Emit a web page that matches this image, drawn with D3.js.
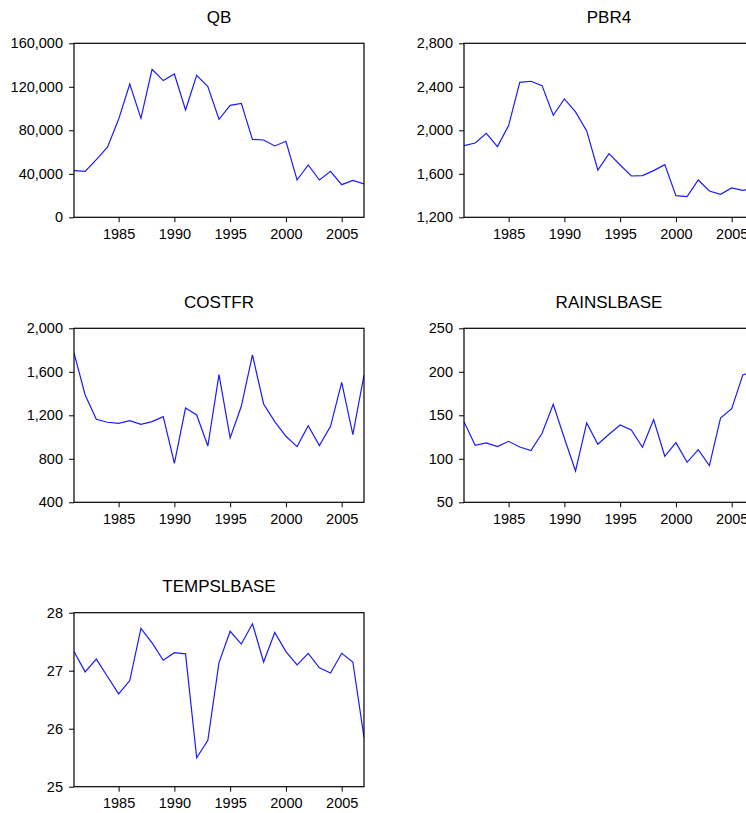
<!DOCTYPE html>
<html>
<head>
<meta charset="utf-8">
<script src="https://cdn.jsdelivr.net/npm/d3@7"></script>
<style>
  html, body { margin: 0; padding: 0; background: #fff; }
  svg { display: block; }
  text { font-family: "Liberation Sans", Arial, sans-serif; fill: #000; }
</style>
</head>
<body>
<svg id="chart" width="746" height="813"></svg>
<script>
const years = d3.range(1981, 2008);
const xTicks = [1985, 1990, 1995, 2000, 2005];

const qb = [42900, 42300, 53000, 64400, 90100, 122600, 91000, 136100, 125700, 131800,
  98700, 130600, 120200, 90100, 103000, 104800, 71700, 71100, 65600, 69900,
  34300, 48100, 34300, 42300, 30000, 34000, 30700];
const pbr4 = [1859, 1883, 1972, 1850, 2043, 2441, 2451, 2411, 2138, 2288,
  2169, 1994, 1635, 1785, 1681, 1580, 1583, 1629, 1684, 1399,
  1390, 1543, 1442, 1411, 1470, 1448, 1462];
const costfr = [1773, 1387, 1163, 1136, 1126, 1151, 1117, 1142, 1188, 759,
  1267, 1203, 918, 1574, 992, 1283, 1755, 1304, 1142, 1007,
  912, 1105, 921, 1099, 1503, 1022, 1570];
const rainslbase = [142.7, 115.5, 118.2, 114.0, 120.1, 113.6, 109.4, 129.3, 162.6, 123.6,
  86.0, 141.2, 116.7, 128.2, 138.9, 133.1, 113.2, 145.0, 102.9, 118.6,
  96.0, 110.5, 92.1, 146.9, 157.7, 196.4, 201.0];
const tempslbase = [27.33, 26.98, 27.20, 26.90, 26.60, 26.83, 27.73, 27.48, 27.18, 27.31,
  27.29, 25.50, 25.80, 27.14, 27.68, 27.46, 27.81, 27.15, 27.66, 27.33,
  27.10, 27.30, 27.05, 26.96, 27.30, 27.15, 25.85];

const qbTicks = [0, 40000, 80000, 120000, 160000];
const pbr4Ticks = [1200, 1600, 2000, 2400, 2800];
const costfrTicks = [400, 800, 1200, 1600, 2000];
const rainTicks = [50, 100, 150, 200, 250];
const tempTicks = [25, 26, 27, 28];

const panels = [
  { title: "QB", values: qb, ticks: qbTicks, fmt: d3.format(","), left: 74, top: 43.3 },
  { title: "PBR4", values: pbr4, ticks: pbr4Ticks, fmt: d3.format(","), left: 464, top: 43.3 },
  { title: "COSTFR", values: costfr, ticks: costfrTicks, fmt: d3.format(","), left: 74, top: 328.3 },
  { title: "RAINSLBASE", values: rainslbase, ticks: rainTicks, fmt: d3.format("d"), left: 464, top: 328.3 },
  { title: "TEMPSLBASE", values: tempslbase, ticks: tempTicks, fmt: d3.format("d"), left: 74, top: 612.7 }
];

const W = 290, H = 174;
const svg = d3.select("#chart");

panels.forEach(p => {
  const g = svg.append("g").attr("transform", `translate(${p.left},${p.top})`);
  const x = d3.scaleLinear().domain([1981, 2007]).range([0, W]);
  const y = d3.scaleLinear().domain([p.ticks[0], p.ticks[p.ticks.length - 1]]).range([H, 0]);

  const clipId = "clip-" + p.title;
  g.append("clipPath").attr("id", clipId)
    .append("rect").attr("x", 0).attr("y", 0).attr("width", W).attr("height", H);

  g.append("path")
    .datum(years.map((yr, i) => [yr, p.values[i]]))
    .attr("clip-path", `url(#${clipId})`)
    .attr("fill", "none")
    .attr("stroke", "#1a1aff")
    .attr("stroke-width", 1.2)
    .attr("stroke-linejoin", "miter")
    .attr("d", d3.line().x(d => x(d[0])).y(d => y(d[1])));

  g.append("rect")
    .attr("x", 0).attr("y", 0).attr("width", W).attr("height", H)
    .attr("fill", "none").attr("stroke", "#000").attr("stroke-width", 1.2);

  const yAxis = g.append("g")
    .call(d3.axisLeft(y).tickValues(p.ticks).tickFormat(p.fmt).tickSize(5).tickPadding(6));
  yAxis.select(".domain").remove();
  yAxis.selectAll("line").attr("stroke", "#000");
  yAxis.selectAll("text").attr("font-size", 14.5).attr("font-family", "Liberation Sans, Arial, sans-serif").attr("fill", "#111");

  const xAxis = g.append("g").attr("transform", `translate(0,${H})`)
    .call(d3.axisBottom(x).tickValues(xTicks).tickFormat(d3.format("d")).tickSize(5).tickPadding(6));
  xAxis.select(".domain").remove();
  xAxis.selectAll("line").attr("stroke", "#000");
  xAxis.selectAll("text").attr("font-size", 14.5).attr("font-family", "Liberation Sans, Arial, sans-serif").attr("fill", "#111");

  g.append("text")
    .attr("x", W / 2).attr("y", -20.6)
    .attr("text-anchor", "middle")
    .attr("font-size", 17)
    .text(p.title);
});
</script>
</body>
</html>
